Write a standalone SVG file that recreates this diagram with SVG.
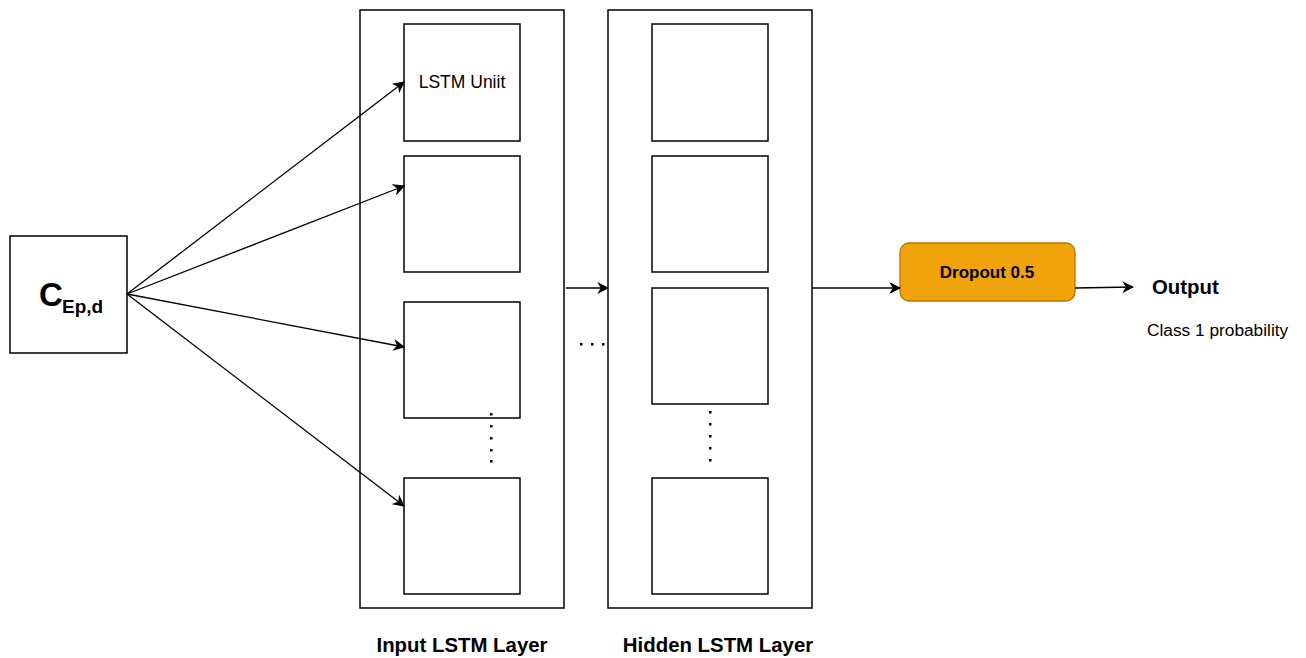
<svg xmlns="http://www.w3.org/2000/svg" width="1306" height="658" viewBox="0 0 1306 658">
<defs>
<marker id="arr" viewBox="0 0 10 10" refX="9" refY="5" markerWidth="12" markerHeight="12" markerUnits="userSpaceOnUse" orient="auto">
<path d="M0,0 L10,5 L0,10 L3,5 Z" fill="#000"/>
</marker>
</defs>
<style>
text{font-family:"Liberation Sans",Arial,sans-serif;fill:#000}
.box{fill:#fff;stroke:#000;stroke-width:1.5}
.b{font-weight:bold}
.con line{stroke:#000;stroke-width:1.3;marker-end:url(#arr)}
.dot{fill:#000}
</style>
<rect width="1306" height="658" fill="#fff"/>
<g id="input">
<rect class="box" x="10" y="236" width="117" height="117"/>
<text class="b" x="39" y="306" font-size="33">C</text>
<text class="b" x="62" y="313" font-size="19">Ep,d</text>
</g>
<g id="input-layer">
<rect class="box" x="360" y="10" width="204" height="598"/>
<rect class="box" x="404" y="24" width="116" height="117"/>
<text x="462" y="88" font-size="17.5" text-anchor="middle">LSTM Uniit</text>
<rect class="box" x="404" y="156" width="116" height="116"/>
<rect class="box" x="404" y="302" width="116" height="116"/>
<rect class="box" x="404" y="478" width="116" height="116"/>
<g class="dot"><rect x="490" y="413" width="2.5" height="2.5"/><rect x="490" y="425" width="2.5" height="2.5"/><rect x="490" y="437" width="2.5" height="2.5"/><rect x="490" y="449" width="2.5" height="2.5"/><rect x="490" y="460" width="2.5" height="2.5"/></g>
<text class="b" x="462" y="652" font-size="20.4" text-anchor="middle">Input LSTM Layer</text>
</g>
<g id="hidden-layer">
<rect class="box" x="608" y="10" width="204" height="598"/>
<rect class="box" x="652" y="24" width="116" height="117"/>
<rect class="box" x="652" y="156" width="116" height="116"/>
<rect class="box" x="652" y="288" width="116" height="116"/>
<rect class="box" x="652" y="478" width="116" height="116"/>
<g class="dot"><rect x="709" y="411" width="2.5" height="2.5"/><rect x="709" y="423" width="2.5" height="2.5"/><rect x="709" y="435" width="2.5" height="2.5"/><rect x="709" y="447" width="2.5" height="2.5"/><rect x="709" y="459" width="2.5" height="2.5"/></g>
<text class="b" x="718" y="652" font-size="20.4" text-anchor="middle">Hidden LSTM Layer</text>
</g>
<g id="between-dots" class="dot">
<rect x="580" y="343" width="2.5" height="2.5"/><rect x="591" y="343" width="2.5" height="2.5"/><rect x="602" y="343" width="2.5" height="2.5"/>
</g>
<g id="dropout">
<rect x="900" y="243" width="175" height="58" rx="9" fill="#f0a30a" stroke="#bd7000" stroke-width="1.3"/>
<text class="b" x="987" y="278" font-size="17" text-anchor="middle">Dropout 0.5</text>
</g>
<g id="output">
<text class="b" x="1152" y="294" font-size="20.4">Output</text>
<text x="1147" y="336" font-size="17.3">Class 1 probability</text>
</g>
<g id="connectors" class="con">
<line x1="127" y1="294" x2="404" y2="82"/>
<line x1="127" y1="294" x2="404" y2="186"/>
<line x1="127" y1="294" x2="404" y2="347"/>
<line x1="127" y1="294" x2="404" y2="506"/>
<line x1="566" y1="288" x2="608" y2="288"/>
<line x1="812" y1="288" x2="900" y2="288"/>
<line x1="1075" y1="288" x2="1133" y2="287"/>
</g>
</svg>
